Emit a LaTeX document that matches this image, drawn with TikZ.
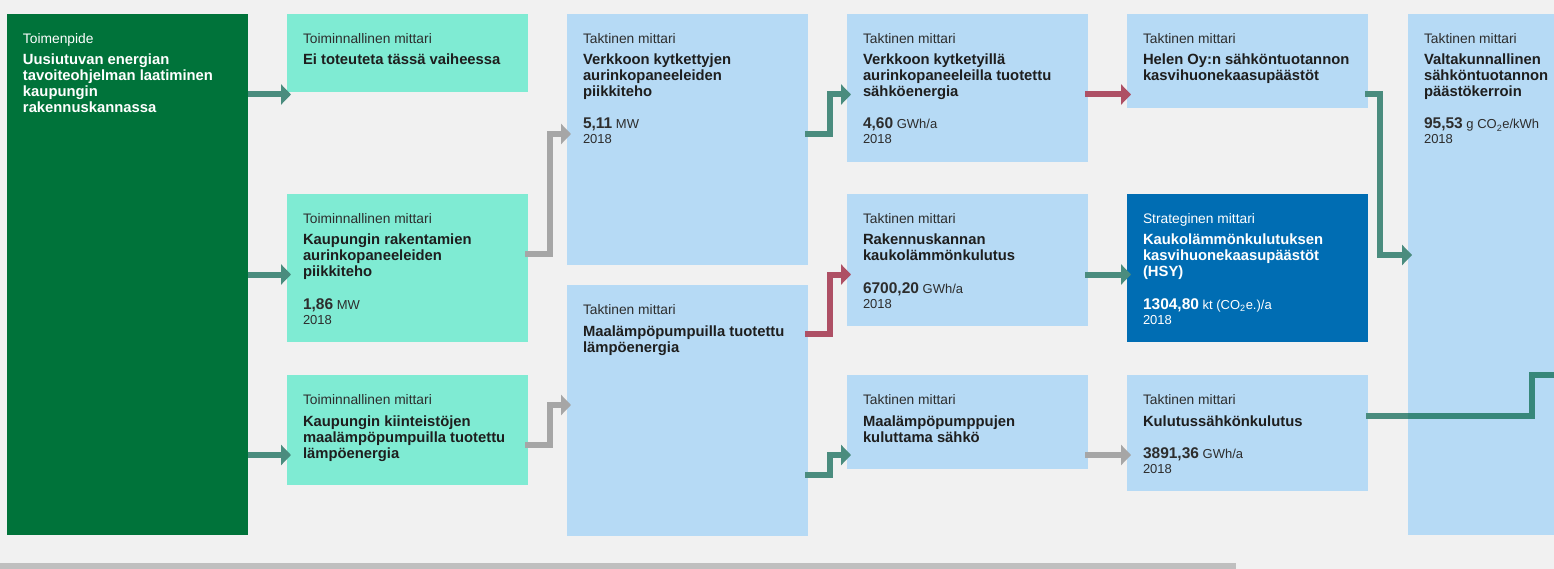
\documentclass[tikz,border=0pt]{standalone}
\usepackage{fontspec}
\setmainfont{Liberation Sans}
\usetikzlibrary{arrows.meta}
\definecolor{cBg}{HTML}{F1F1F1}
\definecolor{cGreen}{HTML}{00733A}
\definecolor{cTeal}{HTML}{7FEBD3}
\definecolor{cBlue}{HTML}{B6DAF5}
\definecolor{cStrat}{HTML}{006DB3}
\definecolor{cArrT}{HTML}{4A8C7E}
\definecolor{cArrTd}{HTML}{37877A}
\definecolor{cArrG}{HTML}{A6A6A6}
\definecolor{cArrR}{HTML}{AE5065}
\definecolor{cBar}{HTML}{BFBFBF}
\definecolor{cLbl}{HTML}{2D2D2D}
\definecolor{cTtl}{HTML}{1E1E1E}
\newcommand\valfont{\fontsize{15.5}{16}\selectfont\bfseries}
\newcommand\mlab[3][]{\node[lbl,#1] (#2L) at ([shift={(16,29.3)}]#2.north west) {#3};}
\newcommand\mtit[3][]{\node[ttl,#1] (#2T) at ([shift={(16,51)}]#2.north west) {\parbox[t]{240pt}{\raggedright #3}};}
\newcommand\mval[5][]{\node[unit,#1] (#2V) at ([shift={(16,#3)}]#2.north west) {{\valfont #4} #5};
  \node[unit,#1] (#2Y) at ([shift={(16,#3+15)}]#2.north west) {2018};}
\begin{document}
\begin{tikzpicture}[x=1pt,y=-1pt,
  bx/.style={rectangle, draw=none, inner sep=0pt, outer sep=0pt, anchor=north west, minimum width=241pt},
  lbl/.style={anchor=base west, inner sep=0pt, outer sep=0pt, text=cLbl, font=\fontsize{13.8}{15}\selectfont},
  unit/.style={anchor=base west, inner sep=0pt, outer sep=0pt, text=cLbl, font=\fontsize{13}{15}\selectfont},
  ttl/.style={anchor=base west, inner sep=0pt, outer sep=0pt, text=cTtl, font=\fontsize{14.8}{16}\selectfont\bfseries},
  wht/.style={text=white},
  arr/.style={line width=6pt, -{Triangle[length=10pt,width=20pt]}, shorten >=-4pt},
  arrT/.style={arr, draw=cArrT},
  arrG/.style={arr, draw=cArrG},
  arrR/.style={arr, draw=cArrR},
  lineT/.style={line width=6pt, draw=cArrT}
]
\useasboundingbox (0,0) rectangle (1554,569);
\fill[cBg] (0,0) rectangle (1554,569);
\fill[cBar] (0,563) rectangle (1236,569);

% boxes
\node[bx, fill=cGreen, minimum height=521pt] (g) at (7,14) {};
\node[bx, fill=cTeal, minimum height=78pt] (t1) at (287,14) {};
\node[bx, fill=cTeal, minimum height=148pt] (t2) at (287,194) {};
\node[bx, fill=cTeal, minimum height=110pt] (t3) at (287,375) {};
\node[bx, fill=cBlue, minimum height=251pt] (b1) at (567,14) {};
\node[bx, fill=cBlue, minimum height=251pt] (b2) at (567,285) {};
\node[bx, fill=cBlue, minimum height=148pt] (b3) at (847,14) {};
\node[bx, fill=cBlue, minimum height=132pt] (b4) at (847,194) {};
\node[bx, fill=cBlue, minimum height=94pt] (b5) at (847,375) {};
\node[bx, fill=cBlue, minimum height=94pt] (b6) at (1127,14) {};
\node[bx, fill=cStrat, minimum height=148pt] (s) at (1127,194) {};
\node[bx, fill=cBlue, minimum height=116pt] (b7) at (1127,375) {};
\node[bx, fill=cBlue, minimum height=521pt] (b8) at (1408,14) {};

% texts
\mlab[wht]{g}{Toimenpide}
\mtit[wht]{g}{Uusiutuvan energian\\tavoiteohjelman laatiminen\\kaupungin\\rakennuskannassa}

\mlab{t1}{Toiminnallinen mittari}
\mtit{t1}{Ei toteuteta tässä vaiheessa}

\mlab{t2}{Toiminnallinen mittari}
\mtit{t2}{Kaupungin rakentamien\\aurinkopaneeleiden\\piikkiteho}
\mval{t2}{115}{1,86}{MW}

\mlab{t3}{Toiminnallinen mittari}
\mtit{t3}{Kaupungin kiinteistöjen\\maalämpöpumpuilla tuotettu\\lämpöenergia}

\mlab{b1}{Taktinen mittari}
\mtit{b1}{Verkkoon kytkettyjen\\aurinkopaneeleiden\\piikkiteho}
\mval{b1}{115}{5,11}{MW}

\mlab{b2}{Taktinen mittari}
\mtit{b2}{Maalämpöpumpuilla tuotettu\\lämpöenergia}

\mlab{b3}{Taktinen mittari}
\mtit{b3}{Verkkoon kytketyillä\\aurinkopaneeleilla tuotettu\\sähköenergia}
\mval{b3}{115}{4,60}{GWh/a}

\mlab{b4}{Taktinen mittari}
\mtit{b4}{Rakennuskannan\\kaukolämmönkulutus}
\mval{b4}{99}{6700,20}{GWh/a}

\mlab{b5}{Taktinen mittari}
\mtit{b5}{Maalämpöpumppujen\\kuluttama sähkö}

\mlab{b6}{Taktinen mittari}
\mtit{b6}{Helen Oy:n sähköntuotannon\\kasvihuonekaasupäästöt}

\mlab[wht]{s}{Strateginen mittari}
\mtit[wht]{s}{Kaukolämmönkulutuksen\\kasvihuonekaasupäästöt\\(HSY)}
\mval[wht]{s}{115}{1304,80}{kt (CO\textsubscript{2}e.)/a}

\mlab{b7}{Taktinen mittari}
\mtit{b7}{Kulutussähkönkulutus}
\mval{b7}{83}{3891,36}{GWh/a}

\mlab{b8}{Taktinen mittari}
\mtit{b8}{Valtakunnallinen\\sähköntuotannon\\päästökerroin}
\mval{b8}{115}{95,53}{g CO\textsubscript{2}e/kWh}

% helper coordinates
\coordinate (y94) at (0,94.5);
\coordinate (y134) at (0,134);
\coordinate (y254) at (0,254);
\coordinate (y255) at (0,255);
\coordinate (y274) at (0,274.5);
\coordinate (y334) at (0,334);
\coordinate (y405) at (0,405);
\coordinate (y415) at (0,415.5);
\coordinate (y445) at (0,445);
\coordinate (y455) at (0,455);
\coordinate (y475) at (0,475);
\coordinate (offR) at (1560,375);

% connectors
\draw[arrT] (g.east |- y94) -- (t1.west |- y94);
\draw[arrT] (g.east |- y274) -- (t2.west |- y274);
\draw[arrT] (g.east |- y455) -- (t3.west |- y455);
\draw[arrG, shorten <=-3pt] (t2.east |- y254) -- ++(22,0) |- (b1.west |- y134);
\draw[arrG, shorten <=-3pt] (t3.east |- y445) -- ++(22,0) |- (b2.west |- y405);
\draw[arrT, shorten <=-3pt] (b1.east |- y134) -- ++(22,0) |- (b3.west |- y94);
\draw[arrR, shorten <=-3pt] (b2.east |- y334) -- ++(22,0) |- (b4.west |- y274);
\draw[arrT, shorten <=-3pt] (b2.east |- y475) -- ++(22,0) |- (b5.west |- y455);
\draw[arrR, shorten <=-3pt] (b3.east |- y94) -- (b6.west |- y94);
\draw[arrT, shorten <=-3pt] (b4.east |- y274) -- (s.west |- y274);
\draw[arrG, shorten <=-3pt] (b5.east |- y455) -- (b7.west |- y455);
\draw[arrT, shorten <=-3pt] (b6.east |- y94) -- ++(12,0) |- (b8.west |- y255);
\draw[lineT, shorten <=-2pt] (b7.east |- y415) -- ++(163.5,0) |- (offR);
\begin{scope}
  \clip (b8.north west) rectangle (b8.south east);
  \draw[lineT, draw=cArrTd] (b7.east |- y415) -- ++(163.5,0) |- (offR);
\end{scope}
\end{tikzpicture}
\end{document}
